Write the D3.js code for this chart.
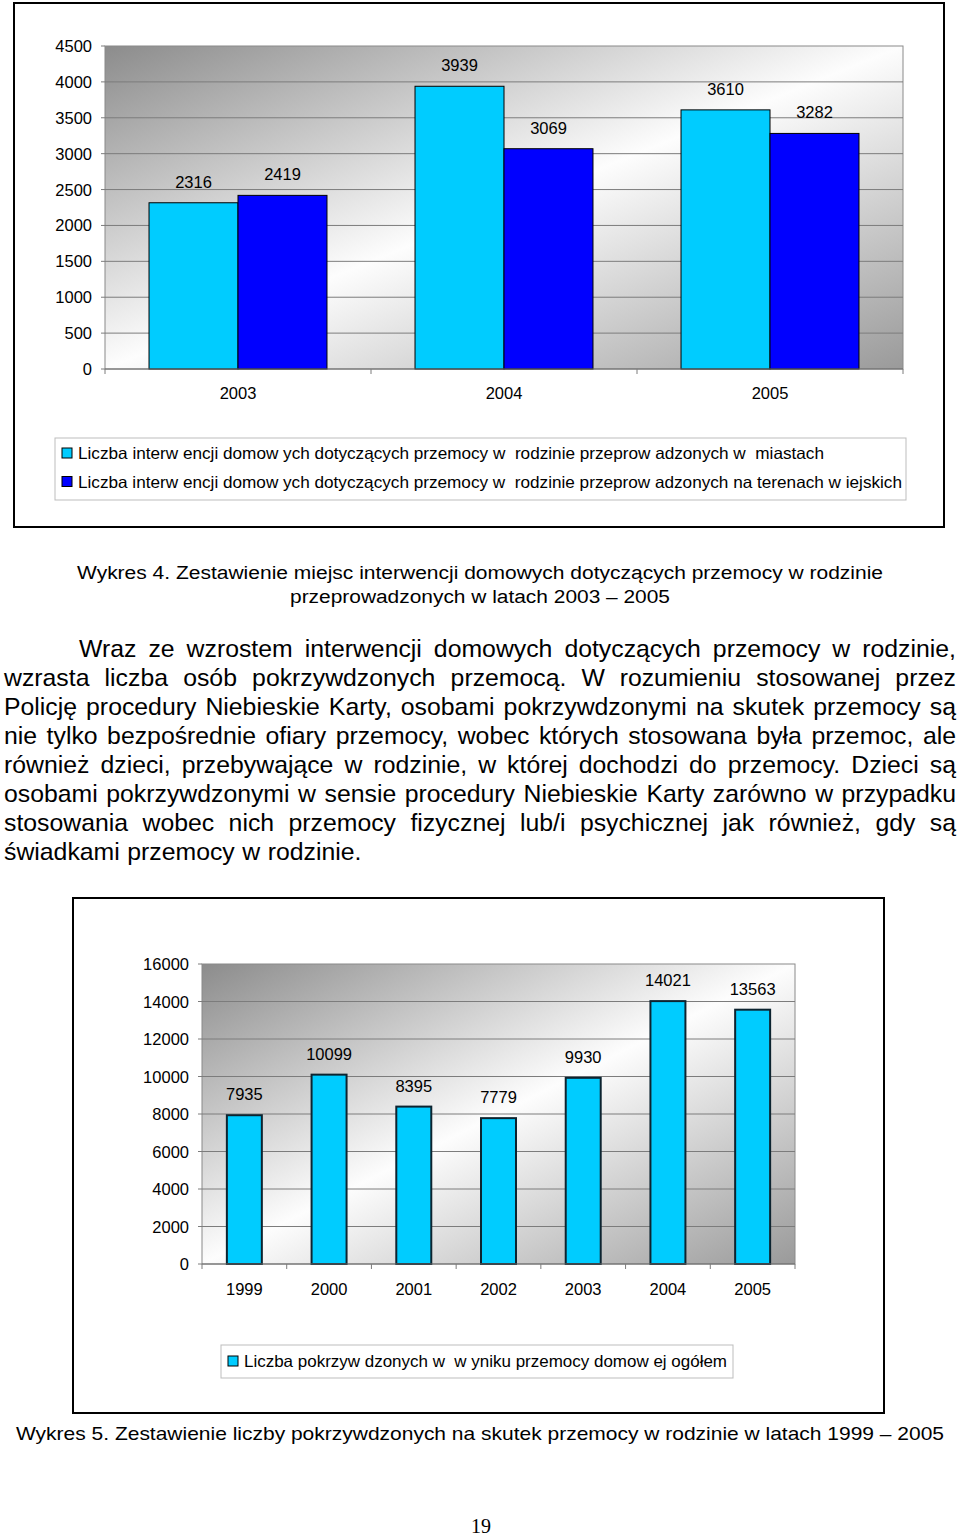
<!DOCTYPE html>
<html>
<head>
<meta charset="utf-8">
<script src="https://cdn.jsdelivr.net/npm/d3@7"></script>
<style>
  html, body { margin: 0; padding: 0; background: #fff; }
  svg { display: block; }
  text { font-family: "Liberation Sans", Arial, sans-serif; fill: #000; }
</style>
</head>
<body>
<svg id="page" width="960" height="1537"></svg>
<script>
// ---------- DATA ----------
const years1 = ["2003", "2004", "2005"];
const miasta = [2316, 3939, 3610];
const wsi = [2419, 3069, 3282];
const yTicks1 = [0, 500, 1000, 1500, 2000, 2500, 3000, 3500, 4000, 4500];
const legend1 = [
  "Liczba interw encji domow ych dotyczących przemocy w  rodzinie przeprow adzonych w  miastach",
  "Liczba interw encji domow ych dotyczących przemocy w  rodzinie przeprow adzonych na terenach w iejskich"
];

const years2 = ["1999", "2000", "2001", "2002", "2003", "2004", "2005"];
const ogolem = [7935, 10099, 8395, 7779, 9930, 14021, 13563];
const yTicks2 = [0, 2000, 4000, 6000, 8000, 10000, 12000, 14000, 16000];
const legend2 = ["Liczba pokrzyw dzonych w  w yniku przemocy domow ej ogółem"];

const caption4 = ["Wykres 4. Zestawienie miejsc interwencji domowych dotyczących przemocy w rodzinie",
                  "przeprowadzonych w latach 2003 – 2005"];
const caption5 = "Wykres 5. Zestawienie liczby pokrzywdzonych na skutek przemocy w rodzinie w latach 1999 – 2005";
const paragraph = [
  "Wraz ze wzrostem interwencji domowych dotyczących przemocy w rodzinie,",
  "wzrasta liczba osób pokrzywdzonych przemocą. W rozumieniu stosowanej przez",
  "Policję procedury Niebieskie Karty, osobami pokrzywdzonymi na skutek przemocy są",
  "nie tylko bezpośrednie ofiary przemocy, wobec których stosowana była przemoc, ale",
  "również dzieci, przebywające w rodzinie, w której dochodzi do przemocy. Dzieci są",
  "osobami pokrzywdzonymi w sensie procedury Niebieskie Karty zarówno w przypadku",
  "stosowania wobec nich przemocy fizycznej lub/i psychicznej jak również, gdy są",
  "świadkami przemocy w rodzinie."
];
const pageNumber = "19";

// ---------- DRAW ----------
const svg = d3.select("#page");
const defs = svg.append("defs");
const grad = defs.append("linearGradient").attr("id", "plotGrad")
  .attr("x1", 0).attr("y1", 0).attr("x2", 1).attr("y2", 1);
grad.append("stop").attr("offset", 0).attr("stop-color", "#8c8c8c");
grad.append("stop").attr("offset", 0.5).attr("stop-color", "#fdfdfd");
grad.append("stop").attr("offset", 1).attr("stop-color", "#9a9a9a");

const FS = 16.5;

function frame(x, y, w, h) {
  svg.append("rect").attr("x", x).attr("y", y).attr("width", w).attr("height", h)
    .attr("fill", "#fff").attr("stroke", "#000").attr("stroke-width", 2);
}

function plotArea(x0, x1, yScale, ticks, labelRight, barsCb, cats, xScale, catY) {
  const [yBottom, yTop] = yScale.range();
  const g = svg.append("g");
  g.append("rect").attr("x", x0).attr("y", yTop).attr("width", x1 - x0).attr("height", yBottom - yTop)
    .attr("fill", "url(#plotGrad)").attr("stroke", "#8a8a8a").attr("stroke-width", 1);
  g.selectAll("line.grid").data(ticks.filter(t => t > 0 && t < yScale.domain()[1])).join("line")
    .attr("x1", x0).attr("x2", x1)
    .attr("y1", d => yScale(d)).attr("y2", d => yScale(d))
    .attr("stroke", "#7c7c7c").attr("stroke-width", 1);
  g.selectAll("line.yt").data(ticks).join("line")
    .attr("x1", x0 - 4).attr("x2", x0)
    .attr("y1", d => yScale(d)).attr("y2", d => yScale(d))
    .attr("stroke", "#7c7c7c");
  g.selectAll("text.yl").data(ticks).join("text")
    .attr("x", labelRight).attr("y", d => yScale(d) + 6)
    .attr("text-anchor", "end").attr("font-size", FS).text(d => d);
  barsCb(g);
  g.append("line").attr("x1", x0).attr("x2", x1).attr("y1", yBottom).attr("y2", yBottom)
    .attr("stroke", "#6a6a6a").attr("stroke-width", 1.2);
  const step = xScale.step();
  const start = xScale.range()[0];
  const tickPos = d3.range(cats.length + 1).map(i => start + i * step);
  g.selectAll("line.xt").data(tickPos).join("line")
    .attr("x1", d => d).attr("x2", d => d).attr("y1", yBottom).attr("y2", yBottom + 5)
    .attr("stroke", "#7c7c7c");
  g.selectAll("text.xl").data(cats).join("text")
    .attr("x", d => xScale(d) + xScale.bandwidth() / 2).attr("y", catY)
    .attr("text-anchor", "middle").attr("font-size", FS).text(d => d);
}

// ===== Chart 1 =====
frame(14, 3, 930, 524);
const y1 = d3.scaleLinear().domain([0, 4500]).range([369, 46]);
const x1 = d3.scaleBand().domain(years1).range([105, 903]).paddingInner(0.331).paddingOuter(0.1655);
const xs1 = d3.scaleBand().domain([0, 1]).range([0, x1.bandwidth()]);
const series1 = [
  { vals: miasta, color: "#00ccff" },
  { vals: wsi, color: "#0000ff" }
];
plotArea(105, 903, y1, yTicks1, 92, g => {
  series1.forEach((s, si) => {
    g.selectAll(null).data(years1).join("rect")
      .attr("x", d => x1(d) + xs1(si))
      .attr("y", (d, i) => y1(s.vals[i]))
      .attr("width", xs1.bandwidth())
      .attr("height", (d, i) => y1(0) - y1(s.vals[i]))
      .attr("fill", s.color).attr("stroke", "#000").attr("stroke-width", 1);
    g.selectAll(null).data(years1).join("text")
      .attr("x", d => x1(d) + xs1(si) + xs1.bandwidth() / 2)
      .attr("y", (d, i) => y1(s.vals[i]) - 15)
      .attr("text-anchor", "middle").attr("font-size", FS)
      .text((d, i) => s.vals[i]);
  });
}, years1, x1, 399);

// legend 1
svg.append("rect").attr("x", 55).attr("y", 438).attr("width", 851).attr("height", 62)
  .attr("fill", "#fff").attr("stroke", "#bdbdbd");
const leg1W = [746, 824];
legend1.forEach((t, i) => {
  const cy = 453 + i * 28.5;
  svg.append("rect").attr("x", 62).attr("y", cy - 5).attr("width", 10).attr("height", 10)
    .attr("fill", series1[i].color).attr("stroke", "#000").attr("stroke-width", 1);
  svg.append("text").attr("x", 78).attr("y", cy + 6).attr("font-size", FS)
    .style("white-space", "pre")
    .attr("textLength", leg1W[i]).attr("lengthAdjust", "spacingAndGlyphs").text(t);
});

// caption 4
const cap4W = [806, 380];
caption4.forEach((t, i) => {
  svg.append("text").attr("x", 480).attr("y", 579 + i * 24)
    .attr("text-anchor", "middle").attr("font-size", 18)
    .style("font-family", "'Liberation Sans Narrow', 'Arial Narrow', 'Liberation Sans', Arial, sans-serif")
    .attr("textLength", cap4W[i]).attr("lengthAdjust", "spacingAndGlyphs").text(t);
});

// paragraph (justified)
const pLeft = 4, pRight = 956, pIndent = 79, pTop = 657, pLH = 29;
paragraph.forEach((line, i) => {
  const y = pTop + i * pLH;
  const xStart = i === 0 ? pIndent : pLeft;
  const words = line.split(" ");
  const t = svg.append("text").attr("y", y).attr("font-size", 24.8);
  const spans = words.map(w => t.append("tspan").text(w));
  const widths = spans.map(s => s.node().getComputedTextLength());
  const last = i === paragraph.length - 1;
  const total = d3.sum(widths);
  const gap = last ? 7.5 : (pRight - xStart - total) / (words.length - 1);
  let x = xStart;
  spans.forEach((s, k) => { s.attr("x", x); x += widths[k] + gap; });
});

// ===== Chart 2 =====
frame(73, 898, 811, 515);
const y2 = d3.scaleLinear().domain([0, 16000]).range([1264, 964]);
const x2 = d3.scaleBand().domain(years2).range([202, 795]).paddingInner(0.587).paddingOuter(0.2935);
plotArea(202, 795, y2, yTicks2, 189, g => {
  g.selectAll(null).data(years2).join("rect")
    .attr("x", d => x2(d))
    .attr("y", (d, i) => y2(ogolem[i]))
    .attr("width", x2.bandwidth())
    .attr("height", (d, i) => y2(0) - y2(ogolem[i]))
    .attr("fill", "#00ccff").attr("stroke", "#0d2430").attr("stroke-width", 2);
  g.selectAll(null).data(years2).join("text")
    .attr("x", d => x2(d) + x2.bandwidth() / 2)
    .attr("y", (d, i) => y2(ogolem[i]) - 15)
    .attr("text-anchor", "middle").attr("font-size", FS)
    .text((d, i) => ogolem[i]);
}, years2, x2, 1295);

// legend 2
svg.append("rect").attr("x", 221).attr("y", 1345).attr("width", 512).attr("height", 33)
  .attr("fill", "#fff").attr("stroke", "#bdbdbd");
svg.append("rect").attr("x", 228).attr("y", 1356).attr("width", 10).attr("height", 10)
  .attr("fill", "#00ccff").attr("stroke", "#000");
svg.append("text").attr("x", 244).attr("y", 1367).attr("font-size", FS)
  .style("white-space", "pre")
  .attr("textLength", 483).attr("lengthAdjust", "spacingAndGlyphs").text(legend2[0]);

// caption 5
svg.append("text").attr("x", 16).attr("y", 1440).attr("font-size", 19)
  .attr("textLength", 928).attr("lengthAdjust", "spacingAndGlyphs").text(caption5);

// page number
svg.append("text").attr("x", 481).attr("y", 1533).attr("text-anchor", "middle")
  .attr("font-size", 20).style("font-family", "'Liberation Serif', 'Times New Roman', serif")
  .text(pageNumber);
</script>
</body>
</html>
